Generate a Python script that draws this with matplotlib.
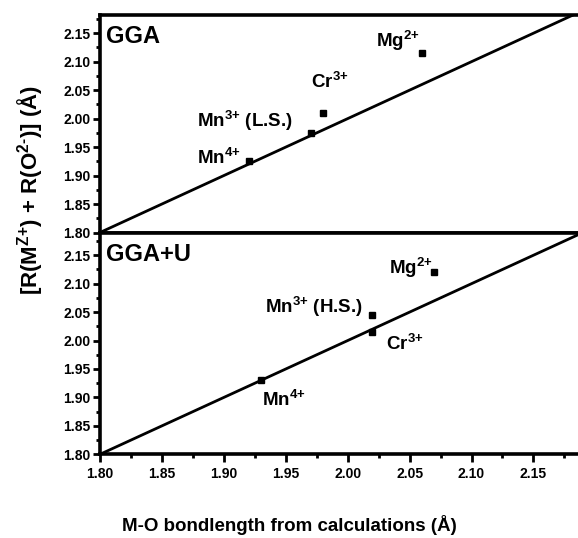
import matplotlib
matplotlib.use("Agg")
import matplotlib.pyplot as plt
from matplotlib.ticker import MultipleLocator, FormatStrFormatter

plt.rcParams['font.family'] = ['Liberation Sans', 'DejaVu Sans']
plt.rcParams['font.weight'] = 'bold'
plt.rcParams['mathtext.fontset'] = 'custom'
plt.rcParams['mathtext.bf'] = 'Liberation Sans:bold'
plt.rcParams['mathtext.rm'] = 'Liberation Sans:bold'
plt.rcParams['mathtext.default'] = 'bf'

# Calculated M-O bond lengths vs. sum of Shannon ionic radii
ions_gga = ["Mn4+", "Mn3+ (L.S.)", "Cr3+", "Mg2+"]
calc_gga = [1.92, 1.97, 1.98, 2.06]
radii_gga = [1.925, 1.975, 2.01, 2.115]

ions_ggau = ["Mn4+", "Mn3+ (H.S.)", "Cr3+", "Mg2+"]
calc_ggau = [1.93, 2.02, 2.02, 2.07]
radii_ggau = [1.93, 2.045, 2.015, 2.12]

ideal_line = [1.80, 2.20]

W, H = 578, 538
fig = plt.figure(figsize=(W / 100, H / 100), dpi=100)

left_px, right_px = 100, 578
top1, mid, bot2 = 15, 232.5, 454.3
ax1 = fig.add_axes([left_px / W, 1 - mid / H, (right_px - left_px) / W, (mid - top1) / H])
ax2 = fig.add_axes([left_px / W, 1 - bot2 / H, (right_px - left_px) / W, (bot2 - mid) / H])

label_tex = {
    "Mn4+": r"Mn$^{\text{4+}}$",
    "Mn3+ (L.S.)": r"Mn$^{\text{3+}}$ (L.S.)",
    "Mn3+ (H.S.)": r"Mn$^{\text{3+}}$ (H.S.)",
    "Cr3+": r"Cr$^{\text{3+}}$",
    "Mg2+": r"Mg$^{\text{2+}}$",
}

panels = [
    (ax1, "GGA", calc_gga, radii_gga, ions_gga, 2.182,
     {"Mn4+": (1.878, 1.921), "Mn3+ (L.S.)": (1.878, 1.985),
      "Cr3+": (1.970, 2.053), "Mg2+": (2.023, 2.126)}),
    (ax2, "GGA+U", calc_ggau, radii_ggau, ions_ggau, 2.19,
     {"Mn4+": (1.931, 1.885), "Mn3+ (H.S.)": (1.933, 2.049),
      "Cr3+": (2.031, 1.983), "Mg2+": (2.033, 2.117)}),
]

for ax, title, xs, ys, names, ytop, label_pos in panels:
    ax.plot(ideal_line, ideal_line, color="black", lw=2.0, zorder=2)
    ax.plot(xs, ys, ls="none", marker="s", ms=5, color="black", zorder=3)
    for name in names:
        lx, ly = label_pos[name]
        ax.text(lx, ly, label_tex[name], fontsize=13.5, fontweight="bold",
                va="baseline", ha="left")
    ax.text(0.013, 0.90, title, transform=ax.transAxes, fontsize=17,
            fontweight="bold", va="center", ha="left")

    ax.set_xlim(1.80, 2.186)
    ax.set_ylim(1.80, ytop)
    ax.xaxis.set_major_locator(MultipleLocator(0.05))
    ax.xaxis.set_minor_locator(MultipleLocator(0.025))
    ax.yaxis.set_major_locator(MultipleLocator(0.05))
    ax.yaxis.set_minor_locator(MultipleLocator(0.025))
    ax.yaxis.set_major_formatter(FormatStrFormatter("%.2f"))
    ax.xaxis.set_major_formatter(FormatStrFormatter("%.2f"))
    ax.spines["right"].set_visible(False)
    for s in ("left", "top", "bottom"):
        ax.spines[s].set_linewidth(2.6)
    ax.tick_params(which="major", direction="out", length=5, width=2,
                   labelsize=10, pad=2)
    ax.tick_params(which="minor", direction="out", length=3, width=2)
    ax.tick_params(axis="both", which="both", top=False, right=False)
    for lab in ax.get_xticklabels() + ax.get_yticklabels():
        lab.set_fontweight("bold")

ax1.tick_params(axis="x", which="both", labelbottom=False)
ax2.tick_params(axis="x", which="major", length=6, pad=3)

fig.text(0.5, 1 - 525 / H, "M-O bondlength from calculations (Å)",
         fontsize=13.5, fontweight="bold", ha="center", va="center")
fig.text(30 / W, 1 - 190 / H, r"[R(M$^{\text{Z+}}$) + R(O$^{\text{2-}}$)] (Å)",
         fontsize=16, fontweight="bold", ha="center", va="center", rotation=90)

fig.savefig("out.png", dpi=100)
